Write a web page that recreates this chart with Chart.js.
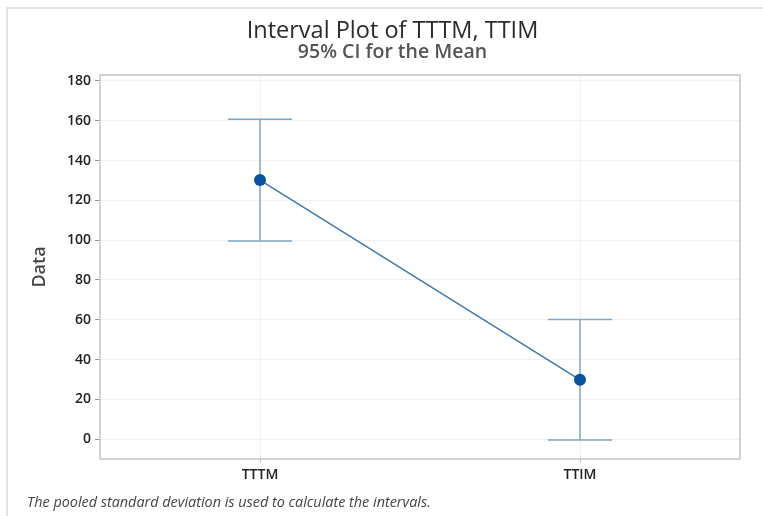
<!DOCTYPE html>
<html>
<head>
<meta charset="utf-8">
<script src="https://cdn.jsdelivr.net/npm/chart.js@4.4.1/dist/chart.umd.min.js"></script>
<style>
body { margin: 0; background: #fff; }
#wrap { position: relative; width: 763px; height: 516px; overflow: hidden; }
#frame {
    position: absolute; left: 6px; top: 7px; width: 800px; height: 600px;
    border-top: 2px solid #e4e4e4; border-left: 2px solid #e4e4e4;
}
#chart { position: absolute; left: 0; top: 0; }
</style>
</head>
<body>
<div id="wrap">
    <div id="frame"></div>
    <canvas id="chart" width="763" height="516"></canvas>
</div>
<script>

// ==========================
// DATOS
// ==========================

const categories = ["TTTM", "TTIM"];
const means = [130.2, 29.8];
const lowerCI = [99.6, -0.5];
const upperCI = [160.8, 60.1];
const yTicks = [0, 20, 40, 60, 80, 100, 120, 140, 160, 180];

const footnote = "The pooled standard deviation is used to calculate the intervals.";


// ==========================
// INTERVALOS + MARCO
// ==========================

const intervalPlugin = {

    id: "intervals",

    beforeDatasetsDraw(chart) {

        const ctx = chart.ctx;
        const area = chart.chartArea;
        const x = chart.scales.x;
        const y = chart.scales.y;

        ctx.save();

        // borde del area de trazado
        ctx.strokeStyle = "#c4c4c4";
        ctx.lineWidth = 1.5;
        ctx.strokeRect(area.left, area.top, area.right - area.left, area.bottom - area.top);

        ctx.strokeStyle = "#80a7c8";
        ctx.lineWidth = 1.5;

        categories.forEach((cat, i) => {

            const px = x.getPixelForValue(i);
            const top = y.getPixelForValue(upperCI[i]);
            const bottom = y.getPixelForValue(lowerCI[i]);
            const cap = 32;

            ctx.beginPath();
            ctx.moveTo(px, top);
            ctx.lineTo(px, bottom);
            ctx.moveTo(px - cap, top);
            ctx.lineTo(px + cap, top);
            ctx.moveTo(px - cap, bottom);
            ctx.lineTo(px + cap, bottom);
            ctx.stroke();

        });

        ctx.restore();

    },

    afterDraw(chart) {

        const ctx = chart.ctx;

        ctx.save();
        ctx.font = "italic 14.4px 'Open Sans'";
        ctx.fillStyle = "#444";
        ctx.textBaseline = "middle";
        ctx.textAlign = "left";
        ctx.fillText(footnote, 27, 503);
        ctx.restore();

    }

};


// ==========================
// GRAFICO
// ==========================

new Chart(document.getElementById("chart"), {

    type: "line",

    data: {

        labels: categories,

        datasets: [

            {

                label: "Mean",

                data: means,

                borderColor: "#4079a9",
                borderWidth: 1.5,

                pointRadius: 6,
                pointHoverRadius: 6,
                pointBackgroundColor: "#0a52a0",
                pointBorderWidth: 0

            }

        ]

    },

    options: {

        responsive: false,
        animation: false,

        layout: {
            padding: { left: 45, right: 23, top: 0, bottom: 0 }
        },

        plugins: {

            legend: { display: false },
            tooltip: { enabled: false },

            title: {
                display: true,
                text: "Interval Plot of TTTM, TTIM",
                color: "#2b2b2b",
                font: { family: "'Open Sans'", size: 23.5, weight: "normal", lineHeight: 1.0 },
                padding: { top: 19.25, bottom: 0 }
            },

            subtitle: {
                display: true,
                text: "95% CI for the Mean",
                color: "#555",
                font: { family: "'Open Sans'", size: 19.5, weight: "600", lineHeight: 1.0 },
                padding: { top: 0, bottom: 12.75 }
            }

        },

        scales: {

            x: {

                type: "category",
                offset: true,

                grid: {
                    offset: false,
                    color: "#f1f1f1",
                    tickColor: "#c4c4c4",
                    tickLength: 4
                },

                border: { display: false },

                ticks: {
                    color: "#222",
                    font: { family: "'Open Sans'", size: 14, weight: "600" },
                    padding: 4
                },

                afterFit(scale) {
                    scale.height = 57;
                }

            },

            y: {

                min: -10,
                max: 183,

                grid: {
                    color: "#f1f1f1",
                    tickColor: "#9a9a9a",
                    tickLength: 5
                },

                border: { display: false },

                ticks: {
                    color: "#222",
                    font: { family: "'Open Sans'", size: 14, weight: "600" },
                    padding: 4,
                    includeBounds: false
                },

                afterBuildTicks(axis) {
                    axis.ticks = yTicks.map(v => ({ value: v }));
                },

                title: {
                    display: true,
                    text: "Data",
                    color: "#444",
                    font: { family: "'Open Sans'", size: 18, weight: "600" },
                    padding: { top: -15.8, bottom: 0 }
                },

                afterFit(scale) {
                    scale.width = 55;
                }

            }

        }

    },

    plugins: [intervalPlugin]

});

</script>
</body>
</html>
